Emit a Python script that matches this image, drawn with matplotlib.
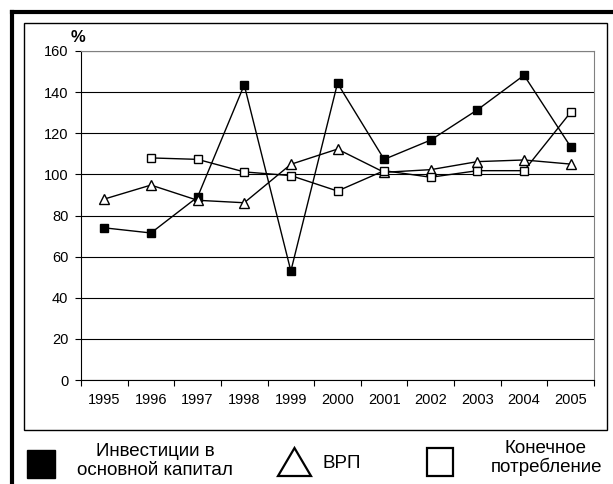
import matplotlib
matplotlib.use("Agg")
import matplotlib.pyplot as plt
from matplotlib.patches import Rectangle, Polygon
from matplotlib.lines import Line2D

plt.rcParams['font.family'] = ['Liberation Sans', 'DejaVu Sans']

# Данные
years = ['1995', '1996', '1997', '1998', '1999', '2000',
         '2001', '2002', '2003', '2004', '2005']
invest = [74, 71.5, 89, 143.5, 53, 144.3, 107.3, 116.7, 131.4, 148.2, 113.4]
vrp = [88, 94.8, 87.4, 86.2, 104.9, 112.3, 101, 102.3, 106.2, 107, 105]
consum = [None, 108, 107.3, 101.2, 99.4, 91.9, 101.8, 98.6, 101.8, 101.8, 130.2]
labels = ['Инвестиции в\nосновной капитал', 'ВРП', 'Конечное\nпотребление']

W, H = 613, 484
fig = plt.figure(figsize=(W / 100, H / 100), dpi=100)

def fx(px):
    return px / W

def fy(py):
    return 1 - py / H

# Рамки
fig.add_artist(Line2D([fx(11.5), 1.0], [fy(11.5), fy(11.5)], color='black', lw=3))
fig.add_artist(Line2D([fx(11.5), fx(11.5)], [fy(11.5), 0.0], color='black', lw=3))
fig.add_artist(Rectangle((fx(24), fy(430)), fx(607) - fx(24), fy(23) - fy(430),
                         fill=False, edgecolor='black', lw=1))

ax = fig.add_axes([fx(81), fy(380), fx(594) - fx(81), fy(51) - fy(380)])
x = list(range(len(years)))

ax.plot(x, invest, color='black', lw=1, marker='s', ms=6,
        mfc='black', mec='black')
ax.plot(x, vrp, color='black', lw=1, marker='^', ms=7.5,
        mfc='white', mec='black', mew=1)
cx = [i for i, v in zip(x, consum) if v is not None]
cy = [v for v in consum if v is not None]
ax.plot(cx, cy, color='black', lw=1, marker='s', ms=6,
        mfc='white', mec='black', mew=1)

ax.set_xlim(-0.5, len(years) - 0.5)
ax.set_ylim(0, 160)
ax.set_yticks(range(0, 161, 20))
ax.yaxis.grid(True, color='black', lw=0.8)
ax.set_axisbelow(True)

ax.set_xticks([i - 0.5 for i in range(len(years) + 1)])
ax.set_xticklabels([])
ax.set_xticks(x, minor=True)
ax.set_xticklabels(years, minor=True, fontsize=10.5)
ax.tick_params(axis='x', which='minor', length=0, pad=9)
ax.tick_params(axis='x', which='major', length=4, direction='out')
ax.tick_params(axis='y', length=4, direction='out', labelsize=10.5, pad=5)

for s in ['top', 'right']:
    ax.spines[s].set_color('#808080')
for s in ['left', 'bottom']:
    ax.spines[s].set_color('black')

fig.text(fx(78), fy(38), '%', fontsize=12, fontweight='bold', ha='center', va='center')

# Легенда
fig.add_artist(Rectangle((fx(27), fy(478)), fx(55) - fx(27), fy(450) - fy(478),
                         facecolor='black', edgecolor='black'))
fig.text(fx(155), fy(461), labels[0], fontsize=13.5, ha='center', va='center',
         linespacing=1.1)
fig.add_artist(Polygon([[fx(278), fy(476)], [fx(311), fy(476)], [fx(294.5), fy(448)]],
                       closed=True, facecolor='white', edgecolor='black', lw=1.6))
fig.text(fx(322), fy(463), labels[1], fontsize=13.5, ha='left', va='center')
fig.add_artist(Rectangle((fx(427), fy(476)), fx(453) - fx(427), fy(448) - fy(476),
                         facecolor='white', edgecolor='black', lw=1.6))
fig.text(fx(546), fy(458), labels[2], fontsize=13.5, ha='center', va='center',
         linespacing=1.1)

fig.savefig('out.png', dpi=100)
